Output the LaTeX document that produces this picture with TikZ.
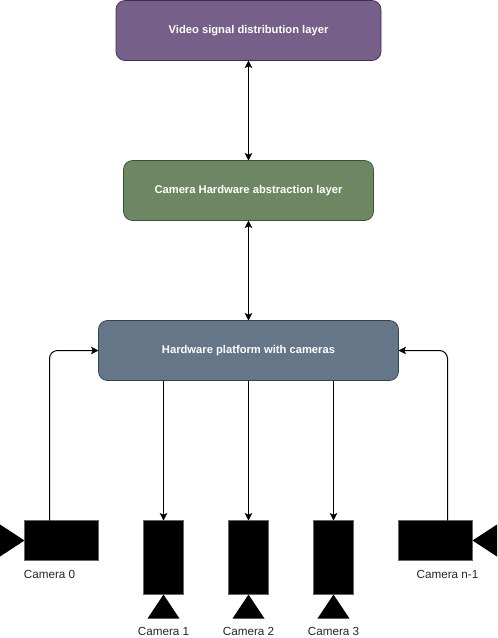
\documentclass[tikz,border=0pt]{standalone}
\usepackage{fontspec}
\setmainfont{Liberation Sans}
\usetikzlibrary{arrows.meta}
\definecolor{purplefill}{HTML}{76608A}
\definecolor{purpleline}{HTML}{432D57}
\definecolor{greenfill}{HTML}{6D8764}
\definecolor{greenline}{HTML}{3A5431}
\definecolor{bluefill}{HTML}{647687}
\definecolor{blueline}{HTML}{314354}
\tikzset{
  layerbox/.style={draw, rounded corners=9pt, minimum height=60pt, inner sep=0pt, outer sep=0pt, line width=0.75pt,
    text=white, font=\fontsize{11.2}{13}\selectfont\bfseries, anchor=north west},
  cambody/.style={draw=black!60, fill=black, inner sep=0pt, outer sep=0pt, line width=0.75pt, anchor=north west},
  lens/.style={fill=black},
  camlabel/.style={font=\fontsize{11.7}{13}\selectfont, text=black!85, inner sep=0pt},
  link/.style={line width=1pt, -{Stealth[length=7.5pt,width=7.5pt,inset=1.8pt]}},
  duplex/.style={line width=1pt, {Stealth[length=7.5pt,width=7.5pt,inset=1.8pt]}-{Stealth[length=7.5pt,width=7.5pt,inset=1.8pt]}},
  elbowlink/.style={link, rounded corners=8pt}
}
\begin{document}
\begin{tikzpicture}[x=1pt,y=-1pt]
\useasboundingbox (0,0) rectangle (498,638);
% layers
\node[layerbox, fill=purplefill, draw=purpleline, minimum width=265pt] (video) at (116,0.5) {\raisebox{-0.5pt}{Video signal distribution layer}};
\node[layerbox, fill=greenfill, draw=greenline, minimum width=250pt] (hal) at (123.5,160.5) {\raisebox{-0.5pt}{Camera Hardware abstraction layer}};
\node[layerbox, fill=bluefill, draw=blueline, minimum width=300pt] (hw) at (98.5,320.5) {\raisebox{-0.5pt}{Hardware platform with cameras}};
% cameras
\node[cambody, minimum width=74pt, minimum height=40pt] (cam0) at (24.5,520.5) {};
\node[cambody, minimum width=40pt, minimum height=74pt] (cam1) at (143.5,520.5) {};
\node[cambody, minimum width=40pt, minimum height=74pt] (cam2) at (228.5,520.5) {};
\node[cambody, minimum width=40pt, minimum height=74pt] (cam3) at (313.5,520.5) {};
\node[cambody, minimum width=74pt, minimum height=40pt] (camn) at (398.5,520.5) {};
% lenses
\fill[lens] (0,524.5) -- (24.5,540.5) -- (0,556.5) -- cycle;
\fill[lens] (147.5,618.5) -- (163.5,594.5) -- (179.5,618.5) -- cycle;
\fill[lens] (232.5,618.5) -- (248.5,594.5) -- (264.5,618.5) -- cycle;
\fill[lens] (317.5,618.5) -- (333.5,594.5) -- (349.5,618.5) -- cycle;
\fill[lens] (497,524.5) -- (472.5,540.5) -- (497,556.5) -- cycle;
% labels
\node[camlabel] (l0) at (49.5,574.5) {Camera 0};
\node[camlabel] (l1) at (163.5,631.5) {Camera 1};
\node[camlabel] (l2) at (248.5,631.5) {Camera 2};
\node[camlabel] (l3) at (333.5,631.5) {Camera 3};
\node[camlabel] (ln) at (447.5,574.5) {Camera n-1};
% anchor points on the camera tops
\coordinate (c0top) at (49.5,520.5);
\coordinate (cntop) at (447.5,520.5);
% connectors
\draw[duplex] (video.south -| hal.north) -- (hal.north);
\draw[duplex] (hal.south) -- (hw.north);
\draw[elbowlink] (c0top) |- (hw.west);
\draw[elbowlink] (cntop) |- (hw.east);
\draw[link] (hw.south -| cam1.north) -- (cam1.north);
\draw[link] (hw.south -| cam2.north) -- (cam2.north);
\draw[link] (hw.south -| cam3.north) -- (cam3.north);
\end{tikzpicture}
\end{document}
